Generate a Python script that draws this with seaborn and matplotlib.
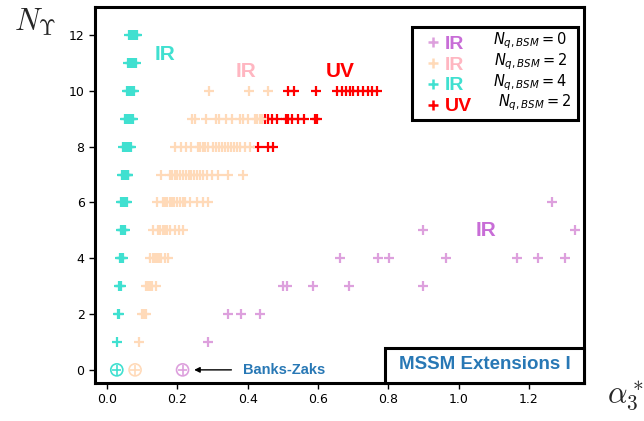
import numpy as np
import pandas as pd
import matplotlib
matplotlib.use("Agg")
import matplotlib.pyplot as plt
import seaborn as sns
from matplotlib.patches import Rectangle
from matplotlib.lines import Line2D

sns.set_style("white")
plt.rcParams['font.family'] = ['DejaVu Sans']

# ---------------- data ----------------
# N_q,BSM = 0 (IR)
purple_x = [0.286, 0.345, 0.380, 0.435, 0.500, 0.511, 0.587, 0.689, 0.898,
            0.663, 0.770, 0.802, 0.965, 1.166, 1.225, 1.303, 0.898, 1.331, 1.267]
purple_N = [1, 2, 2, 2, 3, 3, 3, 3, 3,
            4, 4, 4, 4, 4, 4, 4, 5, 5, 6]

# N_q,BSM = 2 (IR)
peach_x = [0.092,
           0.100, 0.105, 0.110,
           0.110, 0.116, 0.122, 0.128, 0.140,
           0.122, 0.130, 0.136, 0.142, 0.148, 0.155, 0.165, 0.175,
           0.130, 0.145, 0.152, 0.158, 0.165, 0.172, 0.180, 0.193, 0.206, 0.217,
           0.141, 0.160, 0.166, 0.172, 0.178, 0.185, 0.192, 0.200, 0.208, 0.215,
           0.222, 0.236, 0.255, 0.274, 0.288,
           0.153, 0.179, 0.186, 0.193, 0.200, 0.208, 0.216, 0.224, 0.232, 0.240,
           0.248, 0.256, 0.264, 0.272, 0.284, 0.298, 0.317, 0.345, 0.388,
           0.193, 0.212, 0.226, 0.240, 0.258, 0.265, 0.272, 0.280, 0.288, 0.302,
           0.310, 0.318, 0.326, 0.336, 0.345, 0.352, 0.360, 0.369, 0.378, 0.393, 0.407,
           0.241, 0.250, 0.282, 0.310, 0.320, 0.340, 0.355, 0.378, 0.388, 0.402,
           0.421, 0.428, 0.435, 0.440,
           0.290, 0.405, 0.457]
peach_N = ([1] + [2] * 3 + [3] * 5 + [4] * 8 + [5] * 10 + [6] * 15 + [7] * 19
           + [8] * 21 + [9] * 14 + [10] * 3)

# N_q,BSM = 2 (UV)
red_x = [0.431, 0.459, 0.473,
         0.449, 0.458, 0.469, 0.485, 0.510, 0.514, 0.525, 0.544, 0.559, 0.592, 0.597,
         0.516, 0.533, 0.594, 0.653, 0.668, 0.680, 0.690, 0.701, 0.715, 0.729,
         0.743, 0.755, 0.767]
red_N = [8] * 3 + [9] * 11 + [10] * 13

# N_q,BSM = 4 (IR)
cyan_x = [0.030,
          0.032, 0.034,
          0.035, 0.037, 0.039,
          0.037, 0.040, 0.042, 0.045,
          0.039, 0.042, 0.045, 0.048, 0.050,
          0.041, 0.044, 0.047, 0.050, 0.053, 0.056,
          0.043, 0.047, 0.050, 0.053, 0.056, 0.059, 0.061,
          0.045, 0.050, 0.054, 0.057, 0.060, 0.063, 0.066, 0.069,
          0.050, 0.055, 0.059, 0.062, 0.065, 0.068, 0.071, 0.074,
          0.056, 0.060, 0.064, 0.067, 0.070, 0.073, 0.077,
          0.060, 0.065, 0.069, 0.072, 0.075, 0.078, 0.082,
          0.063, 0.068, 0.073, 0.076, 0.079, 0.082, 0.085]
cyan_N = ([1] + [2] * 2 + [3] * 3 + [4] * 4 + [5] * 5 + [6] * 6 + [7] * 7
          + [8] * 8 + [9] * 8 + [10] * 7 + [11] * 7 + [12] * 7)

# Banks-Zaks fixed points (N_Y = 0)
bz_x = [0.215, 0.080, 0.028]
bz_N = [0, 0, 0]

xticks = [0.0, 0.2, 0.4, 0.6, 0.8, 1.0, 1.2]
yticks = [0, 2, 4, 6, 8, 10, 12]

c_purple = "#dda0dd"
c_purple_txt = "#c86dd7"
c_peach = "#ffdab9"
c_pink = "#ffb6c1"
c_cyan = "#40e0d0"
c_red = "#ff0000"
c_blue = "#2878b5"

# ---------------- figure ----------------
fig = plt.figure(figsize=(6.44, 4.21), dpi=100)
ax = fig.add_axes([0.1475, 0.0903, 0.7595, 0.8927])

mk = dict(marker="+", s=44, linewidth=1.6, legend=False, ax=ax)
sns.scatterplot(x=purple_x, y=purple_N, color=c_purple, **mk)
sns.scatterplot(x=red_x, y=red_N, color=c_red, **mk)
sns.scatterplot(x=peach_x, y=peach_N, color=c_peach, **mk)
sns.scatterplot(x=cyan_x, y=cyan_N, color=c_cyan, **mk)

bz_cols = [c_purple, c_peach, c_cyan]
sns.scatterplot(x=bz_x, y=bz_N, hue=[0, 1, 2], palette=bz_cols, marker="+",
                s=45, linewidth=1.2, legend=False, ax=ax)
for xx, yy, cc in zip(bz_x, bz_N, bz_cols):
    ax.scatter([xx], [yy], s=75, facecolors="none", edgecolors=cc, linewidths=1.2)

ax.set_xlim(-0.034, 1.357)
ax.set_ylim(-0.47, 13.0)
ax.set_xticks(xticks)
ax.set_xticklabels([f"{t:.1f}" for t in xticks])
ax.set_yticks(yticks)
ax.set_yticklabels([str(t) for t in yticks])
ax.tick_params(axis="both", which="major", direction="out", length=4, width=1,
               labelsize=9, bottom=True, left=True, colors="black")
for sp in ax.spines.values():
    sp.set_linewidth(2.2)
    sp.set_color("black")
ax.set_xlabel("")
ax.set_ylabel("")

bold = dict(family=["Liberation Sans", "DejaVu Sans"], fontweight="bold")
ax.text(0.137, 11.3, "IR", color=c_cyan, fontsize=15, ha="left", va="center", **bold)
ax.text(0.365, 10.68, "IR", color=c_pink, fontsize=15, ha="left", va="center", **bold)
ax.text(0.623, 10.68, "UV", color=c_red, fontsize=15, ha="left", va="center", **bold)
ax.text(1.048, 5.0, "IR", color=c_purple_txt, fontsize=15, ha="left", va="center", **bold)

ax.annotate("Banks-Zaks", xy=(0.248, 0), xytext=(0.387, 0), ha="left", va="center",
            color=c_blue, fontsize=10.5, fontweight="bold",
            family=["Liberation Sans", "DejaVu Sans"],
            arrowprops=dict(arrowstyle="-|>", color="black", lw=1, shrinkA=6,
                            shrinkB=0, mutation_scale=8))

# MSSM box
ax.add_patch(Rectangle((0.593, 0.0), 0.407, 0.093, transform=ax.transAxes,
                       facecolor="white", edgecolor="black", lw=2.2, zorder=5,
                       clip_on=False))
ax.text(0.797, 0.048, "MSSM Extensions I", transform=ax.transAxes, ha="center",
        va="center", color=c_blue, fontsize=13.5, zorder=6, **bold)

# legend box
ax.add_patch(Rectangle((0.648, 0.699), 0.340, 0.248, transform=ax.transAxes,
                       facecolor="white", edgecolor="black", lw=2.2, zorder=5))
handles = [Line2D([], [], ls="none", marker="+", color=c, ms=7.5, mew=1.8)
           for c in [c_purple, c_peach, c_cyan, c_red]]
leg = ax.legend(handles, ["IR", "IR", "IR", "UV"], loc="upper left",
                bbox_to_anchor=(0.652, 0.962), frameon=False, handlelength=0.6,
                handletextpad=0.3, labelspacing=0.17, borderpad=0.2,
                prop=dict(family="Liberation Sans", weight="bold", size=14))
leg.set_zorder(7)
for t, c in zip(leg.get_texts(), [c_purple_txt, c_pink, c_cyan, c_red]):
    t.set_color(c)

nq_y = [0.910, 0.854, 0.798, 0.745]
nq_lab = [r"$N_{q,BSM} = 0$", r"$N_{q,BSM} = 2$", r"$N_{q,BSM} = 4$", r"$N_{q,BSM} = 2$"]
nq_x = [0.965, 0.965, 0.965, 0.973]
for yy, lab, xx in zip(nq_y, nq_lab, nq_x):
    ax.text(xx, yy, lab, transform=ax.transAxes, ha="right", va="center",
            fontsize=10.5, color="black", zorder=7)

# axis labels
fig.text(0.021, 0.929, r"$N_{\Upsilon}$", fontsize=22, math_fontfamily="cm",
         ha="left", va="baseline")
fig.text(0.942, 0.045, r"$\alpha_3^*$", fontsize=22, math_fontfamily="cm",
         ha="left", va="baseline")

fig.savefig("out.png", dpi=100)
